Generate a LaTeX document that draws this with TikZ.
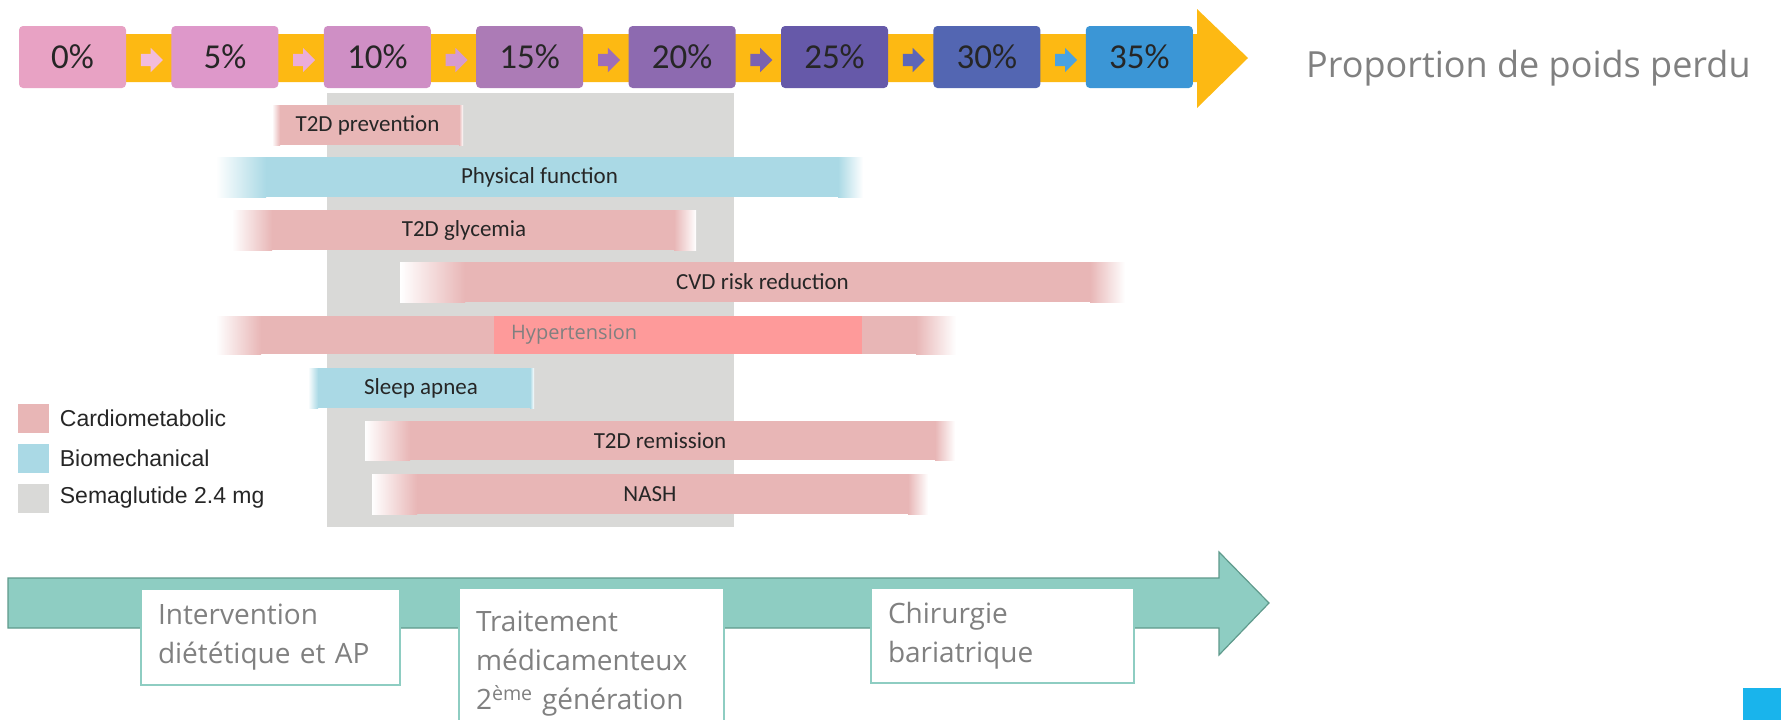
\documentclass[tikz,border=0pt]{standalone}
\usepackage{fontspec}
\setmainfont{Open Sans}
\newfontfamily\calibri{Carlito}
\newfontfamily\arial{Liberation Sans}
\usetikzlibrary{shapes,positioning}

\definecolor{pc0}{HTML}{E8A2C4}
\definecolor{pc1}{HTML}{DE98CA}
\definecolor{pc2}{HTML}{CF8FC5}
\definecolor{pc3}{HTML}{AC7BB6}
\definecolor{pc4}{HTML}{8D6AB0}
\definecolor{pc5}{HTML}{6659A9}
\definecolor{pc6}{HTML}{5366B2}
\definecolor{pc7}{HTML}{3B96D6}
\definecolor{ar0}{HTML}{F2BCDC}
\definecolor{ar1}{HTML}{EBADDA}
\definecolor{ar2}{HTML}{D69BD0}
\definecolor{ar3}{HTML}{9E6EB8}
\definecolor{ar4}{HTML}{7A62B0}
\definecolor{ar5}{HTML}{5C66B8}
\definecolor{ar6}{HTML}{4AA2E2}
\definecolor{bandyellow}{HTML}{FDB913}
\definecolor{cardio}{HTML}{E8B6B6}
\definecolor{bio}{HTML}{AAD9E5}
\definecolor{sema}{HTML}{D9D9D7}
\definecolor{hyper}{HTML}{FE9A9A}
\definecolor{stageteal}{HTML}{8ECDC2}
\definecolor{stageedge}{HTML}{5F9A8C}
\definecolor{textgray}{HTML}{808080}
\definecolor{cornerblue}{HTML}{19B4EC}

\tikzset{
  pctbox/.style={rounded corners=4pt, minimum width=107, minimum height=62, inner sep=0pt,
    font=\calibri\fontsize{35}{35}\selectfont, text=black!85},
  gaparrow/.style={single arrow, inner xsep=0pt, inner ysep=6pt, single arrow head extend=6pt,
    minimum height=22, draw=none},
  barlabel/.style={inner sep=0pt, font=\calibri\fontsize{23}{23}\selectfont, text=black!85},
  legendkey/.style={minimum width=31, minimum height=29, inner sep=0pt},
  legendtext/.style={inner sep=0pt, font=\arial\fontsize{23}{23}\selectfont, text=black!85},
  stagebox/.style={draw=stageteal, line width=1.5pt, fill=white, align=left, inner xsep=17pt,
    font=\fontsize{28}{39}\selectfont, text=textgray},
}

% bar: name, colour, x left, x right, y top, y bottom, left fade, right fade, label
\newcommand{\riskbar}[9]{%
  \fill[white] (#3,#5) rectangle (#4,#6);
  \shade[left color=white, right color=#2] (#3,#5) rectangle (#3+#7,#6);
  \fill[#2] (#3+#7,#5) rectangle (#4-#8,#6);
  \shade[left color=#2, right color=white] (#4-#8,#5) rectangle (#4,#6);
  \node[barlabel] (#1) at ({(#3+#4)/2},{(#5+#6)/2}) {#9};
}

\begin{document}
\begin{tikzpicture}[x=1pt,y=-1pt]
    \useasboundingbox (0,0) rectangle (1781,720);
    % yellow scale arrow
    \fill[bandyellow] (72,34) -- (1197,34) -- (1197,9) -- (1248,58) -- (1197,108)
        -- (1197,82) -- (72,82) -- cycle;
    \foreach \p [count=\i from 0] in {0,5,...,35}{% one box per step
        \node[pctbox, fill=pc\i] (p\i) at (72.5+152.4*\i,57) {\p\%};
    }
    \foreach \i in {0,...,6}{% small arrows in the gaps
        \node[gaparrow, fill=ar\i] (a\i) at (148.7+152.4*\i,60) {};
    }
    \node[anchor=west, inner sep=0pt, text=textgray, font=\fontsize{36}{40}\selectfont]
        (ptitle) at (1306,68) {Proportion de poids perdu};

    % semaglutide range
    \fill[sema] (327,93) rectangle (734,527);

    \riskbar{prev}{cardio}{272}{463}{105}{145}{8}{4}{T2D prevention}
    \riskbar{phys}{bio}{216}{863}{157}{197}{50}{25}{Physical function}
    \riskbar{glyc}{cardio}{232}{696}{210}{250}{40}{22}{T2D glycemia}
    \riskbar{cvd}{cardio}{400}{1125}{262}{302}{65}{35}{CVD risk reduction}
    \riskbar{hbar}{cardio}{216}{956}{316}{354}{45}{40}{}
    \node[anchor=west, fill=hyper, minimum height=38, text width=334, inner xsep=17pt,
        inner ysep=0pt, align=left, text=textgray, font=\fontsize{20}{20}\selectfont]
        (hyp) at (494,335) {Hypertension};
    \riskbar{sleep}{bio}{308}{534}{368}{408}{10}{4}{Sleep apnea}
    \riskbar{remi}{cardio}{365}{955}{421}{460}{45}{20}{T2D remission}
    \riskbar{nash}{cardio}{372}{928}{474}{514}{45}{20}{NASH}

    % legend
    \foreach \c/\lab [count=\i from 0] in {cardio/Cardiometabolic, bio/Biomechanical, sema/Semaglutide 2.4 mg}{%
        \node[legendkey, fill=\c] (k\i) at (33,418+40*\i) {};
        \node[legendtext, right=11pt of k\i] (l\i) {\lab};
    }

    % treatment arrow
    \draw[fill=stageteal, draw=stageedge, line width=1.2pt] (8,578) -- (1219,578) -- (1219,552)
        -- (1269,603) -- (1219,655) -- (1219,628) -- (8,628) -- cycle;
    \node[stagebox, text width=225, minimum height=96] (diet) at (270.5,637)
        {Intervention\\diététique et AP};
    \node[stagebox, text width=231, minimum height=152] (drug) at (591.5,664)
        {Traitement\\médicamenteux\\2\textsuperscript{ème} génération};
    \node[stagebox, text width=229, minimum height=95] (surg) at (1002.5,635.5)
        {Chirurgie\\bariatrique};

    \fill[cornerblue] (1743,688) rectangle (1781,720);
\end{tikzpicture}
\end{document}
